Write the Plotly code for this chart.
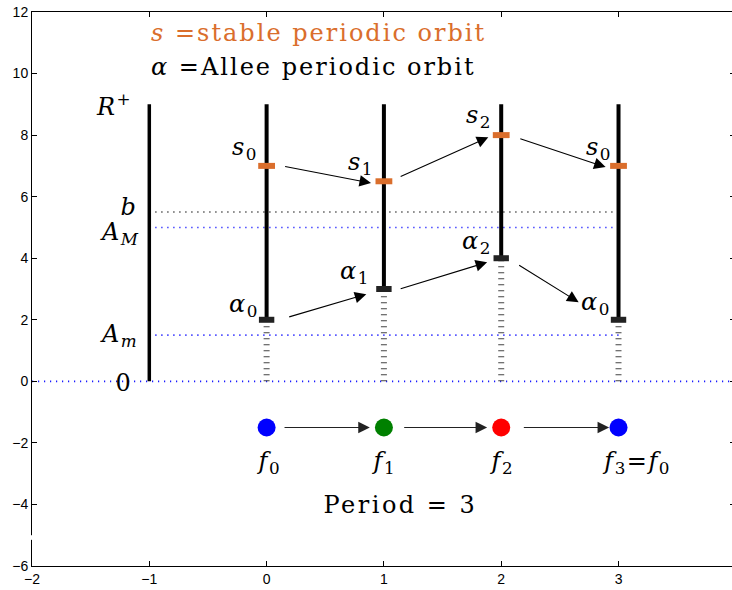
import plotly.graph_objects as go

# ---- data ----
steps = [0, 1, 2, 3]
stable_vals = [7, 6.5, 8, 7]          # s0, s1, s2, s0
allee_vals = [2, 3, 4, 2]             # alpha0, alpha1, alpha2, alpha0
top_val = 9
rplus_x = -1
b_val = 5.5
AM_val = 5.0
Am_val = 1.5
f_y = -1.5
f_colors = ["#0000FF", "#008000", "#FF0000", "#0000FF"]
s_labels = ["<i>s</i><sub>0</sub>", "<i>s</i><sub>1</sub>", "<i>s</i><sub>2</sub>", "<i>s</i><sub>0</sub>"]
a_labels = ["<i>α</i><sub>0</sub>", "<i>α</i><sub>1</sub>", "<i>α</i><sub>2</sub>", "<i>α</i><sub>0</sub>"]
f_labels = ["<i>f</i><sub>0</sub>", "<i>f</i><sub>1</sub>", "<i>f</i><sub>2</sub>", "<i>f</i><sub>3</sub>=<i>f</i><sub>0</sub>"]
# arrows (start -> end)
s_arrows = [((0.145, 6.99), (0.89, 6.44)), ((1.13, 6.63), (1.89, 7.93)), ((2.15, 7.9), (2.89, 6.96))]
a_arrows = [((0.18, 2.08), (0.85, 2.83)), ((1.13, 2.99), (1.88, 3.87)), ((2.14, 3.8), (2.66, 2.57))]
f_arrows = [((0.14, -1.5), (0.88, -1.5)), ((1.16, -1.5), (1.88, -1.5)), ((2.18, -1.5), (2.92, -1.5))]

ORANGE = "#DA6E2C"
SERIF = "DejaVu Serif"

fig = go.Figure()

# dotted reference lines
fig.add_trace(go.Scatter(x=[-2, 4], y=[0, 0], mode="lines",
                         line=dict(color="#1A1AFF", width=1.6, dash="1.2px,4.8px"), hoverinfo="skip"))
for yv, col in [(b_val, "#333333"), (AM_val, "#1A1AFF"), (Am_val, "#1A1AFF")]:
    fig.add_trace(go.Scatter(x=[rplus_x, 3], y=[yv, yv], mode="lines",
                             line=dict(color=col, width=1.6, dash="1.2px,4.8px"), hoverinfo="skip"))

# R+ axis
fig.add_trace(go.Scatter(x=[rplus_x, rplus_x], y=[0, top_val], mode="lines",
                         line=dict(color="black", width=3.5), hoverinfo="skip"))

for xs, a in zip(steps, allee_vals):
    fig.add_trace(go.Scatter(x=[xs, xs], y=[0, a], mode="lines",
                             line=dict(color="#444444", width=6, dash="1px,5px"), hoverinfo="skip"))
    fig.add_trace(go.Scatter(x=[xs, xs], y=[a, top_val], mode="lines",
                             line=dict(color="black", width=4), hoverinfo="skip"))

# markers
fig.add_trace(go.Scatter(x=steps, y=stable_vals, mode="markers",
                         marker=dict(symbol="line-ew", size=12, line=dict(color=ORANGE, width=6)),
                         hoverinfo="skip"))
fig.add_trace(go.Scatter(x=steps, y=allee_vals, mode="markers",
                         marker=dict(symbol="line-ew", size=11, line=dict(color="#222222", width=6)),
                         hoverinfo="skip"))
fig.add_trace(go.Scatter(x=steps, y=[f_y] * len(steps), mode="markers",
                         marker=dict(size=18, color=f_colors, line=dict(width=0)), hoverinfo="skip"))

ann = []
def arrow(p0, p1, col="black"):
    ann.append(dict(x=p1[0], y=p1[1], ax=p0[0], ay=p0[1], xref="x", yref="y", axref="x", ayref="y",
                    showarrow=True, arrowhead=2, arrowsize=2.1, arrowwidth=1.1, arrowcolor=col, text=""))
for p0, p1 in s_arrows + a_arrows:
    arrow(p0, p1)
for p0, p1 in f_arrows:
    arrow(p0, p1, "#222222")

def txt(x, y, t, xa="center", size=24, col="black"):
    ann.append(dict(x=x, y=y, xref="x", yref="y", text=t, showarrow=False, xanchor=xa, yanchor="middle",
                    align=xa, font=dict(family=SERIF, size=size, color=col)))

txt(-1.0, 11.32, "<i>s</i> =stable periodic orbit", xa="left", size=24, col=ORANGE)
txt(-1.0, 10.21, "<i>α</i> =Allee periodic orbit", xa="left", size=24)
txt(-1.13, 8.98, "<i>R</i><sup>+</sup>", xa="right")
txt(-1.09, 5.66, "<i>b</i>", xa="right")
txt(-1.06, 4.8, "<i>A</i><sub><i>M</i></sub>", xa="right")
txt(-1.08, 1.5, "<i>A</i><sub><i>m</i></sub>", xa="right")
txt(-1.13, -0.07, "0", xa="right")
s_lab_pos = [(-0.06, 7.58), (0.93, 7.09), (1.94, 8.59), (2.96, 7.55)]
a_lab_pos = [(-0.05, 2.47), (0.9, 3.54), (1.94, 4.52), (2.95, 2.54)]
for (x, y), t in zip(s_lab_pos, s_labels):
    txt(x, y, t, xa="right")
for (x, y), t in zip(a_lab_pos, a_labels):
    txt(x, y, t, xa="right")
f_lab_x = [0.02, 1.0, 2.01, 3.15]
for x, t in zip(f_lab_x, f_labels):
    txt(x, -2.63, t)
txt(1.14, -4.03, "Period = 3")

# the axes box runs 3px past the right edge of the 732px window, as in the reference
fig.update_layout(
    width=735, height=590, margin=dict(l=32, r=0, t=12, b=24),
    plot_bgcolor="white", paper_bgcolor="white", showlegend=False,
    annotations=ann,
    shapes=[dict(type="rect", xref="paper", yref="y", x0=-0.004, x1=0.004, y0=-5.0, y1=-5.15,
                 fillcolor="white", line=dict(width=0), layer="above")],
    xaxis=dict(range=[-2, 3.993], tickvals=[-2, -1, 0, 1, 2, 3], showgrid=False, zeroline=False,
               automargin=False, ticklabeloverflow="allow",
               showline=True, linecolor="black", linewidth=1, mirror="ticks", ticks="inside",
               ticklen=5, tickcolor="black", tickfont=dict(family="Liberation Sans", size=14, color="black")),
    yaxis=dict(range=[-6, 12], tickvals=list(range(-6, 13, 2)), showgrid=False, zeroline=False,
               automargin=False, ticklabeloverflow="allow",
               showline=True, linecolor="black", linewidth=1, mirror="ticks", ticks="inside",
               ticklen=5, tickcolor="black", tickfont=dict(family="Liberation Sans", size=14, color="black")),
)

post = """
document.body.style.margin = '0';
document.body.style.overflow = 'hidden';
document.querySelectorAll('.annotation-text').forEach(function(e){
  var t = e.textContent;
  if (t.indexOf('orbit') >= 0) { e.style.letterSpacing = '2px'; }
  else if (t.indexOf('Period') >= 0) { e.style.letterSpacing = '2.5px'; }
  else if (t.length > 0) { e.style.letterSpacing = '1.5px'; }
});
"""

fig.write_html("out.html", post_script=post, config={"displayModeBar": False})
